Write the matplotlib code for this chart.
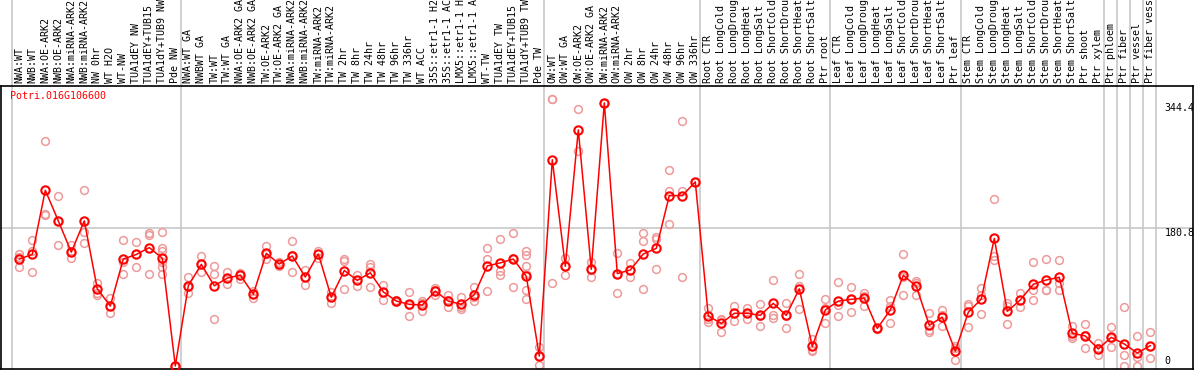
import matplotlib
matplotlib.use("Agg")
import matplotlib.pyplot as plt

gene = "Potri.016G106600"

labels = [
    "NWA:WT", "NWB:WT", "NWA:OE-ARK2", "NWB:OE-ARK2", "NWA:miRNA-ARK2", "NWB:miRNA-ARK2",
    "NW 0hr", "WT H2O", "WT-NW", "TUA1dEY NW", "TUA1dEY+TUB15 NW", "TUA1dY+TUB9 NW", "Pde NW",
    "NWA:WT GA", "NWBWT GA", "TW:WT", "TW:WT GA", "NWA:OE-ARK2 GA", "NWB:OE-ARK2 GA",
    "TW:OE-ARK2", "TW:OE-ARK2 GA", "NWA:miRNA-ARK2 GA", "NWB:miRNA-ARK2 GA", "TW:miRNA-ARK2",
    "TW:miRNA-ARK2 GA", "TW 2hr", "TW 8hr", "TW 24hr", "TW 48hr", "TW 96hr", "TW 336hr",
    "WT ACC", "35S::etr1-1 H2O", "35S::etr1-1 ACC", "LMX5::etr1-1 H2O", "LMX5::etr1-1 ACC",
    "WT-TW", "TUA1dEY TW", "TUA1dEY+TUB15 TW", "TUA1dY+TUB9 TW", "Pde TW",
    "OW:WT", "OW:WT GA", "OW:OE-ARK2", "OW:OE-ARK2 GA", "OW:miRNA-ARK2", "OW:miRNA-ARK2 GA",
    "OW 2hr", "OW 8hr", "OW 24hr", "OW 48hr", "OW 96hr", "OW 336hr",
    "Root CTR", "Root LongCold", "Root LongDrought", "Root LongHeat", "Root LongSalt",
    "Root ShortCold", "Root ShortDrought", "Root ShortHeat", "Root ShortSalt", "Ptr root",
    "Leaf CTR", "Leaf LongCold", "Leaf LongDrought", "Leaf LongHeat", "Leaf LongSalt",
    "Leaf ShortCold", "Leaf ShortDrought", "Leaf ShortHeat", "Leaf ShortSalt", "Ptr leaf",
    "Stem CTR", "Stem LongCold", "Stem LongDrought", "Stem LongHeat", "Stem LongSalt",
    "Stem ShortCold", "Stem ShortDrought", "Stem ShortHeat", "Stem ShortSalt", "Ptr shoot",
    "Ptr xylem", "Ptr phloem", "Ptr fiber", "Ptr vessel", "Ptr fiber vessel",
]

means = [
    140, 146, 230, 190, 149, 190, 101, 78.5, 140, 146, 155, 141, 0,
    105, 133, 105, 115, 119, 94, 147.5, 133.5, 144, 116.5, 146.6, 90, 125, 112, 122,
    97, 85, 80.7, 79.8, 98, 85, 80.7, 93.3, 131, 135, 140, 117.4, 13,
    270, 130.5, 309, 126.5, 344.4, 121, 125.6, 146.6, 154, 223, 223, 241,
    65.4, 55.8, 69, 69, 66.3, 82, 66.3, 101, 25.7, 73.3,
    85, 87.3, 89, 49.3, 73.3, 118.7, 104.3, 53.3, 64, 19.4,
    70.3, 87.7, 167, 71.6, 86.4, 107, 112.6, 116, 42.8, 39.3,
    22.3, 37.5, 28.8, 17, 26.6,
]

replicates = [
    [147, 143, 130], [165, 151, 123], [295, 199, 197], [222, 190, 158], [158, 150, 142],
    [230, 176, 161], [108, 96, 93], [89, 78, 69], [165, 136, 121], [162, 146, 130],
    [174, 171, 120], [175, 155, 151, 136, 130, 121], [0, 0, 0],
    [116, 104, 95], [144, 133, 123], [131, 121, 62], [123, 115, 107], [122, 119, 114],
    [98, 94, 89], [157, 147, 140], [136, 133, 131], [164, 145, 123], [126, 117, 106],
    [151, 147, 142], [97, 90, 83], [140, 137, 101], [119, 112, 105], [133, 129, 104],
    [106, 97, 86], [86, 84, 85], [97, 80, 65], [85, 83, 72], [102, 99, 92.5],
    [92.5, 86, 77], [90, 77, 75], [104, 90, 85.5], [154, 140, 98], [166, 124, 119],
    [174, 141, 104], [150, 145, 131, 120, 100, 88], [25, 13, 1],
    [350, 350, 109], [141, 131, 119], [336, 281], [136, 126, 117], [344.4, 344.4],
    [147.5, 121, 95], [135, 126, 116], [174, 163, 101], [169, 166, 127],
    [256.5, 228.6, 186], [321, 229, 117], [241, 241],
    [76, 62, 58], [62, 60, 44], [78, 70, 59], [76, 70, 61.5], [81, 66, 52],
    [112, 67, 63], [83, 66, 50], [121, 105, 74], [35, 21, 20], [88, 76, 56],
    [110, 80, 65], [103, 88, 71], [95.5, 92, 79], [50, 49, 48], [86, 78, 56],
    [146.6, 117, 92.5], [111, 109, 93], [69, 47, 44], [73, 67, 52], [26.5, 24, 7.4],
    [79, 81, 51], [102, 93, 68], [218.6, 144, 139], [82, 78, 55], [95, 87, 77],
    [136, 99, 86], [140, 99, 99], [139, 108, 100], [53, 39, 36], [55, 40, 23],
    [30, 23, 14], [51, 37, 25], [77, 14, 0], [39, 12, 0], [44, 26, 10],
]

# group boundaries (after these sample numbers)
group_ends = [0, 13, 41, 53, 63, 73, 84, 85, 86, 87, 88]
ytick_vals = [344.4, 180.8, 0]
ytick_labels = ["344.4", "180.8", "0"]

W, H = 1194, 370
fig = plt.figure(figsize=(W / 100, H / 100), dpi=100)
# axes pixel frame: x 1..1193, y 86..369 (from top)
ax = fig.add_axes([1 / W, (H - 369) / H, 1192 / W, 283 / H])

mono = "DejaVu Sans Mono"
fs = 7.2
n = len(means)
xs = list(range(1, n + 1))

x0 = 1 + (1 - 19.3) / 13
x1 = 1 + (1193 - 19.3) / 13
y0 = (366 - 369) / 0.764
y1 = (366 - 86) / 0.764
ax.set_xlim(x0, x1)
ax.set_ylim(y0, y1)

ax.set_xticks([])
ax.set_yticks([])
for s in ax.spines.values():
    s.set_color("black")
    s.set_linewidth(1.2)

ax.axhline(ytick_vals[1], color="#c8c8c8", lw=1.2, zorder=1)

ext = 369 / 283
for g in group_ends:
    ax.axvline(g + 0.4, ymin=0, ymax=ext, color="#c8c8c8", lw=1.2, clip_on=False, zorder=1)

for i, reps in zip(xs, replicates):
    ax.plot([i] * len(reps), reps, ls="none", marker="o", ms=5.6, mfc="none",
            mec="#ee9a9a", mew=1.1, zorder=2)

ax.plot(xs, means, color="red", lw=1.1, zorder=3)
ax.plot(xs, means, ls="none", marker="o", ms=6.0, mfc="none", mec="red", mew=1.5, zorder=4)

for v, t in zip(ytick_vals, ytick_labels):
    ax.text(89.1, v, t, family=mono, fontsize=fs, ha="left",
            va="bottom" if v == 0 else "top", zorder=5)

ax.text(9 / 1192, (369 - 91) / 283, gene, transform=ax.transAxes, family=mono,
        fontsize=fs, color="red", ha="left", va="top")

for i, lab in zip(xs, labels):
    ax.text(i, y1 + 3 / 0.764, lab, family=mono, fontsize=fs, rotation=90,
            ha="left", va="center", rotation_mode="anchor", clip_on=False)

fig.savefig("out.png", dpi=100)
